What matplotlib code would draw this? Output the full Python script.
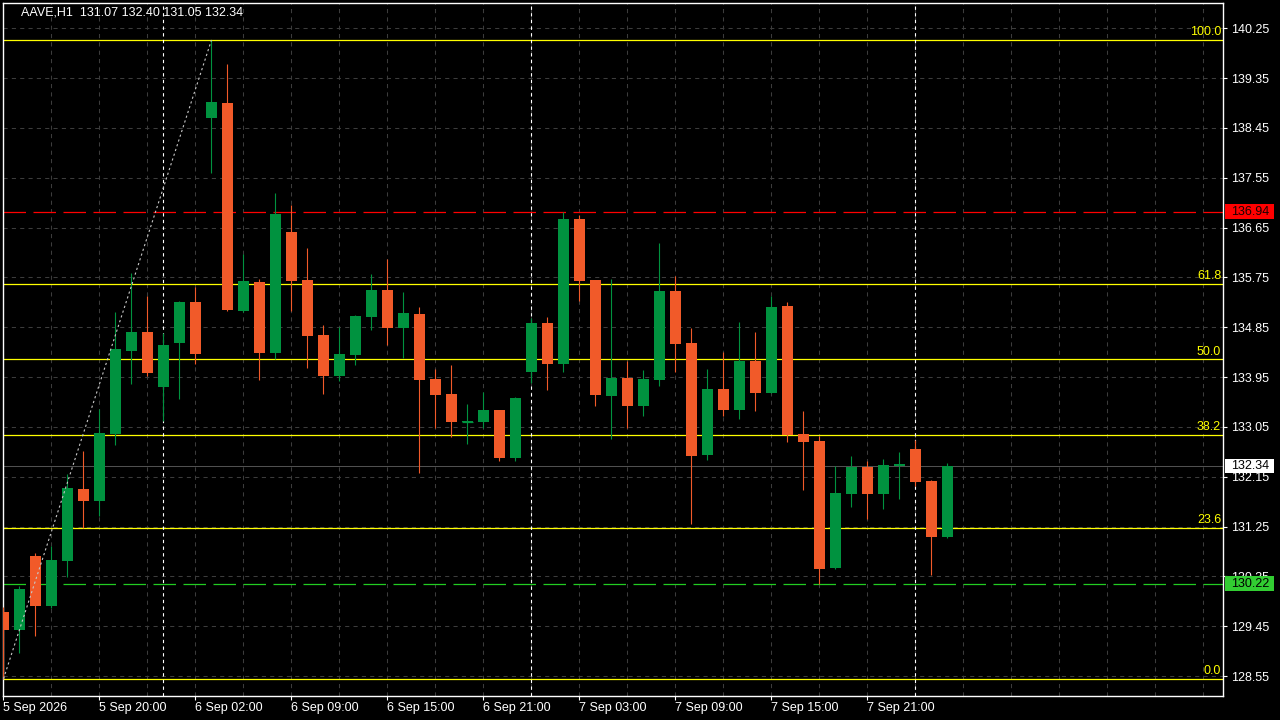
import matplotlib
matplotlib.use('Agg')
import matplotlib.pyplot as plt
import matplotlib.transforms as mtransforms
from matplotlib.patches import Rectangle
import numpy as np

# ---------------- data ----------------
chart_title = "AAVE,H1  131.07 132.40 131.05 132.34"

opens = [129.71, 129.38, 130.72, 129.81, 130.63, 131.93, 131.72, 132.93, 134.42, 134.77,
         133.77, 134.57, 135.31, 138.63, 138.90, 135.14, 135.67, 134.39, 136.57, 135.70,
         134.71, 133.97, 134.35, 135.03, 135.52, 134.84, 135.09, 133.92, 133.64, 133.14,
         133.14, 133.35, 132.49, 134.04, 134.93, 134.18, 136.81, 135.70, 133.61, 133.93,
         133.43, 133.89, 135.51, 134.56, 132.54, 133.73, 133.35, 134.24, 133.67, 135.23,
         132.92, 132.80, 130.50, 131.84, 132.33, 131.84, 132.35, 132.65, 132.08, 131.07]
highs = [129.80, 130.17, 130.78, 130.89, 132.20, 132.62, 133.37, 135.13, 135.83, 135.41,
         134.75, 135.33, 135.57, 140.04, 139.60, 136.17, 135.72, 137.28, 137.06, 136.28,
         134.89, 134.86, 135.07, 135.81, 136.08, 135.49, 135.22, 134.10, 134.17, 133.46,
         133.68, 133.36, 133.59, 135.02, 135.03, 136.93, 136.88, 135.71, 135.73, 134.24,
         134.08, 136.37, 135.78, 134.84, 134.10, 134.40, 134.94, 134.77, 135.42, 135.31,
         133.34, 132.88, 132.34, 132.53, 132.43, 132.47, 132.60, 132.81, 132.09, 132.40]
lows = [128.50, 128.97, 129.27, 129.77, 130.34, 131.23, 131.44, 132.73, 133.83, 133.97,
        133.15, 133.55, 134.18, 137.63, 135.15, 135.13, 133.89, 134.27, 135.14, 134.12,
        133.64, 133.87, 134.17, 134.80, 134.53, 134.30, 132.22, 133.03, 132.86, 132.74,
        133.03, 132.43, 132.43, 133.85, 133.72, 134.04, 135.33, 133.43, 132.83, 133.03,
        133.25, 133.79, 134.04, 131.29, 132.45, 133.25, 133.20, 133.34, 133.66, 132.78,
        131.91, 130.21, 130.48, 131.61, 131.39, 131.57, 131.75, 131.98, 130.37, 131.05]
closes = [129.38, 130.12, 129.81, 130.65, 131.95, 131.72, 132.94, 134.46, 134.77, 134.02,
          134.53, 135.31, 134.36, 138.92, 135.16, 135.69, 134.39, 136.90, 135.69, 134.69,
          133.97, 134.37, 135.06, 135.52, 134.84, 135.11, 133.89, 133.63, 133.14, 133.15,
          133.35, 132.49, 133.58, 134.93, 134.18, 136.81, 135.69, 133.63, 133.93, 133.43,
          133.92, 135.51, 134.55, 132.53, 133.73, 133.35, 134.24, 133.67, 135.22, 132.91,
          132.78, 130.48, 131.86, 132.33, 131.84, 132.37, 132.38, 132.05, 131.06, 132.34]

x_tick_bars = [0, 6, 12, 18, 24, 30, 36, 42, 48, 54]
x_tick_labels = ["5 Sep 2026", "5 Sep 20:00", "6 Sep 02:00", "6 Sep 09:00", "6 Sep 15:00",
                 "6 Sep 21:00", "7 Sep 03:00", "7 Sep 09:00", "7 Sep 15:00", "7 Sep 21:00"]
price_ticks = [128.55, 129.45, 130.35, 131.25, 132.15, 133.05, 133.95, 134.85,
               135.75, 136.65, 137.55, 138.45, 139.35, 140.25]
separator_bars = [10, 33, 57]

fib_ratios = [0.0, 23.6, 38.2, 50.0, 61.8, 100.0]
fib_low, fib_high = 128.50, 140.04
fib_low_bar, fib_high_bar = 0, 13

resistance = 136.94
support = 130.22
last_price = 132.34

# ---------------- style ----------------
UP = '#00923f'
DOWN = '#f15a29'
GRID = '#3c3c3c'
FS = 9

plt.rcParams['font.family'] = ['Liberation Sans', 'DejaVu Sans']

W, H = 1280, 720
fig = plt.figure(figsize=(W / 100, H / 100), dpi=100, facecolor='black')
ax_left, ax_right, ax_top, ax_bot = 2.5, 1223.0, 2.5, 696.0
ax_w = ax_right - ax_left
ax = fig.add_axes([ax_left / W, (H - ax_bot) / H, ax_w / W, (ax_bot - ax_top) / H])
ax.set_facecolor('black')

ymin, ymax = 128.189, 140.716
ax.set_xlim(-0.0625, 76.22)
ax.set_ylim(ymin, ymax)
px_per_price = (ax_bot - ax_top) / (ymax - ymin)

# grid
for b in range(0, 77, 3):
    ax.axvline(b, color=GRID, lw=0.75, ls=(0, (4, 4)), zorder=0.5)
for p in price_ticks:
    ax.axhline(p, color=GRID, lw=0.75, ls=(0, (4, 4)), zorder=0.5)

# last price line
ax.axhline(last_price, color='#505050', lw=0.75, zorder=1.0)

# fibonacci levels
trans_lbl = mtransforms.blended_transform_factory(ax.transAxes, ax.transData)
for r in fib_ratios:
    lvl = fib_low + (fib_high - fib_low) * r / 100.0
    ax.axhline(lvl, color='#ffff00', lw=0.9, zorder=1.5)
    ax.text(0.9985, lvl + 0.03, f"{r:.1f}", transform=trans_lbl, ha='right', va='bottom',
            color='#ffff00', fontsize=FS, zorder=6)

# resistance / support
ax.axhline(resistance, color='#ff0000', lw=0.9, ls=(0, (18, 6)), zorder=1.6)
ax.axhline(support, color='#22cc22', lw=0.9, ls=(0, (18, 6)), zorder=1.6)

# period separators
for b in separator_bars:
    ax.axvline(b, color='white', lw=0.8, ls=(0, (3, 3)), zorder=2.0)

# candles
n = len(opens)
idx = np.arange(n)
o = np.array(opens); h = np.array(highs); l = np.array(lows); c = np.array(closes)
colors = [UP if cc >= oo else DOWN for oo, cc in zip(o, c)]
width = 11 / 16
ax.vlines(idx, l, h, colors=colors, lw=0.8, zorder=3)
lo = np.minimum(o, c); hi = np.maximum(o, c)
ax.bar(idx, hi - lo, bottom=lo, width=width, color=colors, lw=0, zorder=4)
for i in range(n):
    if hi[i] - lo[i] < 0.03:
        ax.hlines(o[i], i - width / 2, i + width / 2, color=colors[i], lw=0.9, zorder=4)

# fib trend line
ax.plot([fib_low_bar, fib_high_bar], [fib_low, fib_high], color='#c8c8c8', lw=0.8,
        ls=(0, (2, 2.5)), zorder=5)

# axes styling
for s in ax.spines.values():
    s.set_color('white')
    s.set_linewidth(1.0)
ax.yaxis.tick_right()
ax.set_yticks(price_ticks)
ax.set_yticklabels([f"{p:.2f}" for p in price_ticks])
ax.tick_params(axis='y', colors='white', labelcolor='white', length=3, width=0.8,
               labelsize=FS, pad=2.5)
ax.set_xticks(x_tick_bars)
ax.set_xticklabels(x_tick_labels)
ax.tick_params(axis='x', colors='white', labelcolor='white', length=3, width=0.8,
               labelsize=FS, pad=1.5)
for t in ax.get_xticklabels():
    t.set_ha('left')

# price boxes on the right axis
box_left = (1225 - ax_left) / ax_w
box_wid = 49 / ax_w
box_half = 7.2 / px_per_price
text_x = (1231 - ax_left) / ax_w
for val, fc, tc in [(resistance, '#ff0000', '#1a0000'), (support, '#32cd32', '#000000'),
                    (last_price, '#ffffff', '#000000')]:
    ax.add_patch(Rectangle((box_left, val - box_half), box_wid, 2 * box_half,
                           transform=trans_lbl, facecolor=fc, edgecolor='none',
                           clip_on=False, zorder=9))
    ax.text(text_x, val, f"{val:.2f}", transform=trans_lbl, ha='left', va='center',
            fontsize=FS, color=tc, zorder=10, clip_on=False)

# title
fig.text(21 / W, 1 - 12.5 / H, chart_title, color='white', fontsize=FS,
         ha='left', va='center', zorder=10)

fig.savefig('out.png', dpi=100, facecolor='black')
